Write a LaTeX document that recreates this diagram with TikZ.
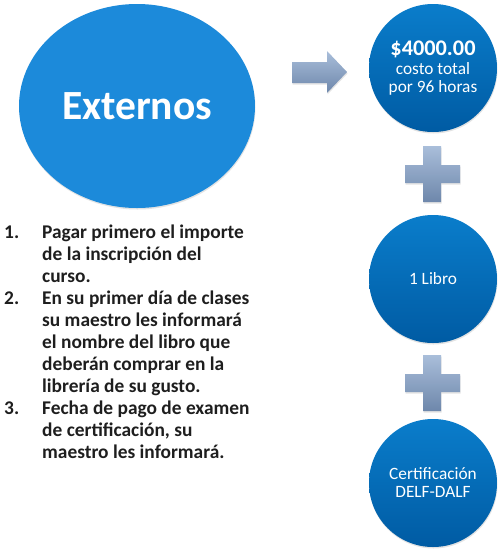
\documentclass[tikz,border=0pt]{standalone}
\usepackage{fontspec}
\setmainfont{Carlito}
\usetikzlibrary{shapes.geometric,shadows}
\definecolor{ellblue}{HTML}{1C8ADA}
\definecolor{ctop}{HTML}{0A7DCB}
\definecolor{cbot}{HTML}{005BA3}
\definecolor{gtop}{HTML}{A9BEDA}
\definecolor{gbot}{HTML}{6E87AB}
\definecolor{listgray}{HTML}{1E1E1E}
\tikzset{
  softshadow/.style={drop shadow={shadow xshift=0.5pt,shadow yshift=-1.5pt,opacity=.18,fill=black!60}},
  bigell/.style={ellipse,minimum width=236pt,minimum height=204pt,inner sep=0pt,fill=ellblue,text=white,
    font=\bfseries\fontsize{41.5}{45}\selectfont,softshadow},
  circ/.style={circle,minimum size=128pt,inner sep=0pt,top color=ctop,bottom color=cbot,draw=none,
    text=white,align=center,font=\fontsize{17.3}{18}\selectfont,softshadow},
  deco/.style={top color=gtop,bottom color=gbot,draw=none,softshadow},
  numtxt/.style={anchor=base west,inner sep=0pt,text=listgray,font=\bfseries\fontsize{19.4}{22}\selectfont},
  linetxt/.style={anchor=base west,inner sep=0pt,text=listgray,font=\bfseries\fontsize{19.4}{22}\selectfont}
}
\begin{document}
\begin{tikzpicture}[x=1pt,y=-1pt]
\useasboundingbox (0,0) rectangle (500,550);
% big ellipse
\node[bigell] (ext) at (137,106) {Externos};
% circles
\node[circ] (c1) at (433,68) {{\bfseries\fontsize{22.3}{24}\selectfont \$4000.00}\\[1pt]costo total\\por 96 horas};
\node[circ] (c2) at (433,279) {1 Libro};
\node[circ] (c3) at (433,483) {Certificación\\DELF-DALF};
% block arrow
\path[deco] (292,62) -- (327,62) -- (327,51) -- (347,72) -- (327,93) -- (327,83) -- (292,83) -- cycle;
% plus signs
\foreach \cy in {174,383}{
  \path[deco] (423,\cy-28) -- (441,\cy-28) -- (441,\cy-9) -- (460,\cy-9) -- (460,\cy+9) -- (441,\cy+9)
    -- (441,\cy+28) -- (423,\cy+28) -- (423,\cy+9) -- (405,\cy+9) -- (405,\cy-9) -- (423,\cy-9) -- cycle;
}
% list
\node[numtxt] (n1) at (4,238.5) {1.};
\node[numtxt] (n2) at (4,304.5) {2.};
\node[numtxt] (n3) at (4,414.5) {3.};
\node[linetxt] (l1) at (42,238.5) {Pagar primero el importe};
\node[linetxt] (l2) at (42,260.5) {de la inscripción del};
\node[linetxt] (l3) at (42,282.5) {curso.};
\node[linetxt] (l4) at (42,304.5) {En su primer día de clases};
\node[linetxt] (l5) at (42,326.5) {su maestro les informará};
\node[linetxt] (l6) at (42,348.5) {el nombre del libro que};
\node[linetxt] (l7) at (42,370.5) {deberán comprar en la};
\node[linetxt] (l8) at (42,392.5) {librería de su gusto.};
\node[linetxt] (l9) at (42,414.5) {Fecha de pago de examen};
\node[linetxt] (l10) at (42,436.5) {de certificación, su};
\node[linetxt] (l11) at (42,458.5) {maestro les informará.};
\end{tikzpicture}
\end{document}
